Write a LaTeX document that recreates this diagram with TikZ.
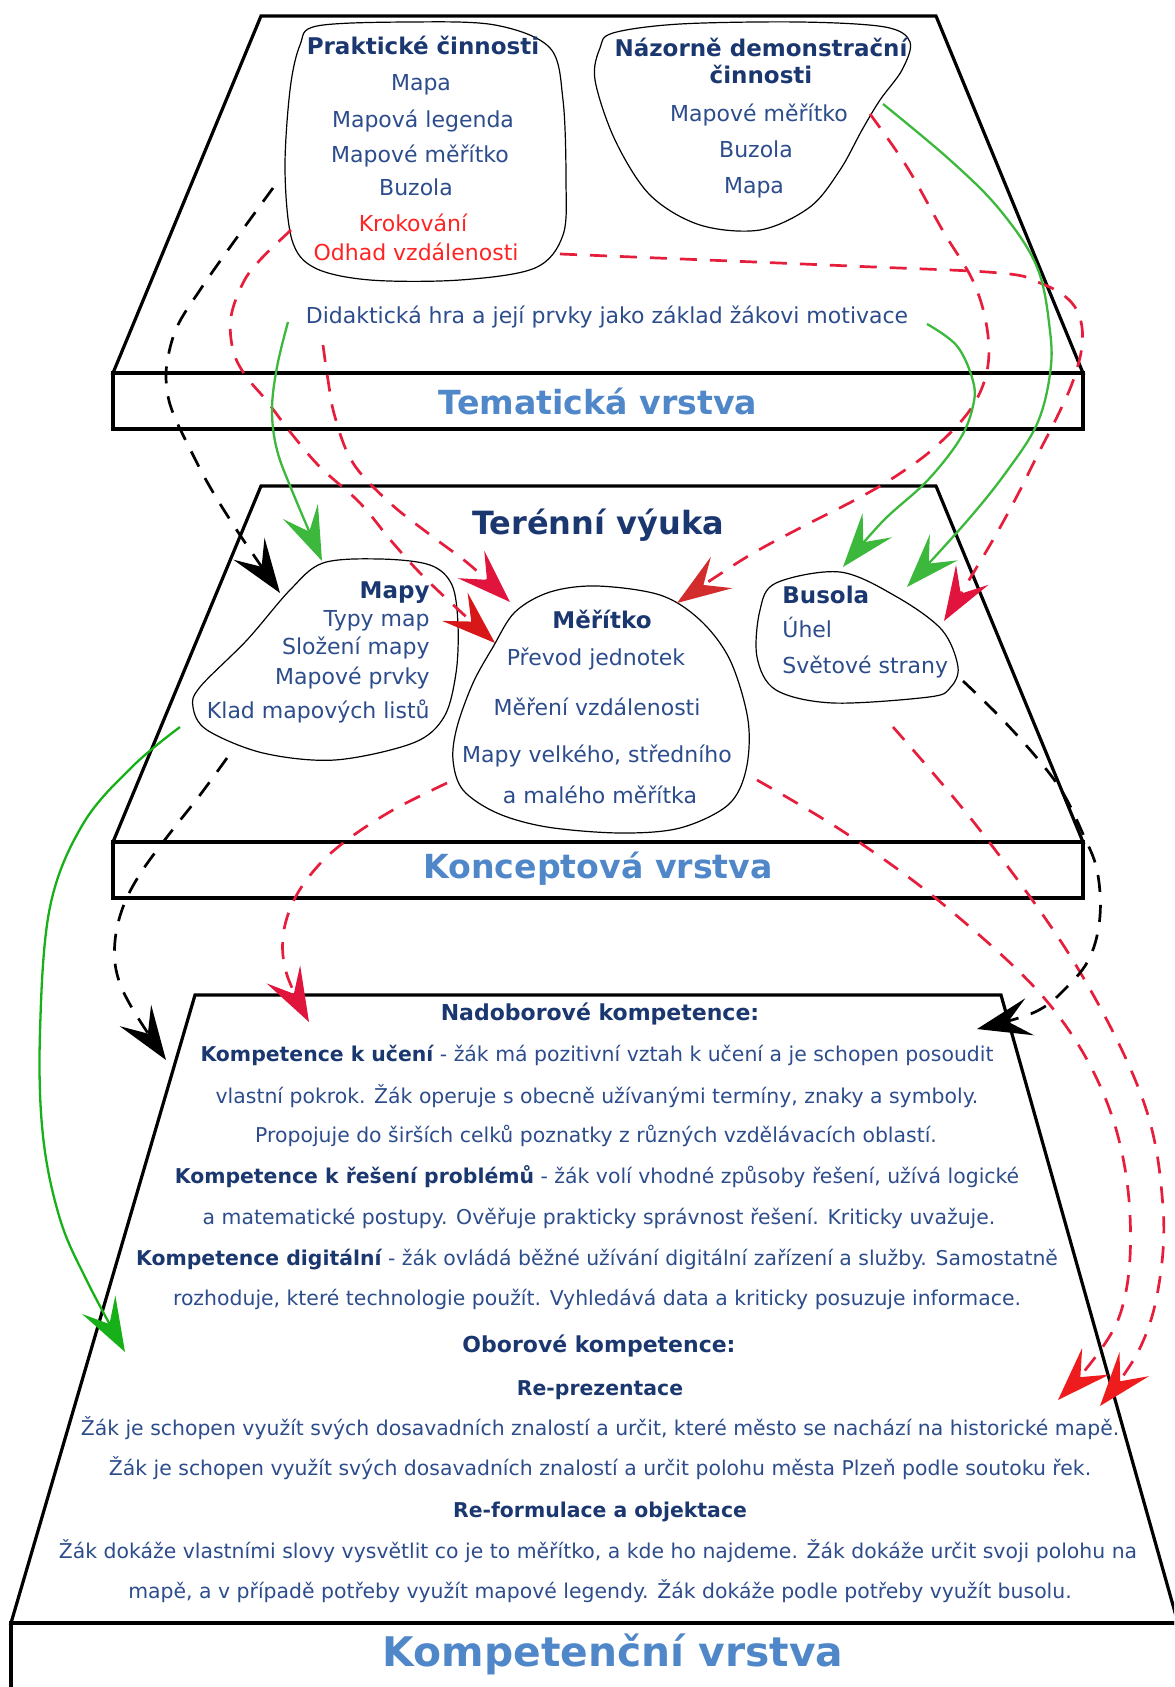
\documentclass[tikz,border=0pt]{standalone}
\usepackage{fontspec}
\setmainfont{DejaVu Sans}
\usetikzlibrary{arrows.meta}
\definecolor{navy}{HTML}{1B3770}
\definecolor{tblue}{HTML}{2C4C8C}
\definecolor{lblue}{HTML}{4F87C9}
\definecolor{txtred}{HTML}{FF2424}
\definecolor{dashred}{HTML}{E61E3C}
\definecolor{tipcrim}{HTML}{E0143C}
\definecolor{tipdark}{HTML}{D81818}
\definecolor{tipbrick}{HTML}{D22C2C}
\definecolor{tipred}{HTML}{EE1C1C}
\definecolor{gline}{HTML}{3CB83C}
\definecolor{gdeep}{HTML}{18B018}
\begin{document}
\begin{tikzpicture}[x=0.5pt,y=-0.5pt,
  layer/.style={line width=1.6pt, line join=miter},
  blob/.style={line width=0.6pt},
  txt/.style={inner sep=0pt, text=tblue, font=\fontsize{11}{13}\selectfont, text height=8pt, text depth=2.5pt},
  hd/.style={inner sep=0pt, text=navy, font=\bfseries\fontsize{11.5}{13}\selectfont, text height=8.5pt, text depth=2.5pt},
  rtxt/.style={txt, text=txtred},
  btxt/.style={inner sep=0pt, text=tblue, font=\fontsize{10.2}{12}\selectfont, text height=7.5pt, text depth=2.2pt},
  bhd/.style={inner sep=0pt, text=navy, font=\bfseries\fontsize{11}{13}\selectfont, text height=8pt, text depth=2.5pt},
  bsub/.style={bhd, font=\bfseries\fontsize{10.2}{12}\selectfont},
  ltitle/.style={inner sep=0pt, text=lblue, font=\bfseries\fontsize{16.6}{18}\selectfont},
  reddash/.style={line width=1.35pt, dashred, dash pattern=on 8.5pt off 6.5pt},
  blackdash/.style={line width=1.35pt, black, dash pattern=on 8.5pt off 6.5pt},
  gcon/.style={line width=1.15pt, gline},
  headin/.style={-{Stealth[length=27pt,width=19pt,inset=11pt,color=#1]}},
]
\useasboundingbox (0,0) rectangle (1174,1687);
\clip (0,0) rectangle (1174,1687);

% ---------- layer 1: thematic ----------
\draw[layer] (261,16) -- (936,16) -- (1083,373) -- (113,373) -- cycle;
\draw[layer] (113,373) rectangle (1083,429);
\node[ltitle] (tema) at (598,401) {Tematická vrstva};

% ---------- layer 2: conceptual ----------
\draw[layer] (261,486) -- (936,486) -- (1083,842) -- (113,842) -- cycle;
\draw[layer] (113,842) rectangle (1083,898);
\node[ltitle] (konc) at (598,869) {Konceptová vrstva};
\node[inner sep=0pt, text=navy, font=\bfseries\fontsize{16}{18}\selectfont] (teren) at (598,525) {Terénní výuka};

% ---------- layer 3: competences ----------
\draw[layer] (195,995) -- (1001,995) -- (1178,1623) -- (11,1623) -- cycle;
\draw[layer] (11,1700) -- (11,1623) -- (1190,1623);
\node[ltitle, font=\bfseries\fontsize{20.4}{22}\selectfont] (komp) at (613,1654) {Kompetenční vrstva};

% ---------- blobs ----------
\draw[blob] plot[smooth cycle, tension=0.55] coordinates {(317,26) (410,22) (495,25) (550,48) (563,100) (566,180) (563,235) (535,268) (460,280) (370,280) (315,268) (292,240) (285,170) (290,90) (300,45)};
\draw[blob] plot[smooth cycle, tension=0.55] coordinates {(613,33) (680,24) (800,22) (885,27) (910,42) (902,70) (880,100) (862,130) (840,170) (810,207) (760,230) (700,225) (650,195) (615,140) (595,80) (600,48)};
\draw[blob] plot[smooth cycle, tension=0.55] coordinates {(323,563) (380,559) (430,565) (452,585) (458,625) (456,673) (444,717) (413,743) (335,760) (263,753) (207,730) (193,707) (200,687) (247,640) (290,590)};
\draw[blob] plot[smooth cycle, tension=0.55] coordinates {(597,586) (660,595) (700,620) (730,660) (748,720) (746,770) (728,805) (680,828) (620,833) (547,827) (497,813) (463,790) (453,760) (457,727) (473,683) (493,647) (515,612) (550,592)};
\draw[blob] plot[smooth cycle, tension=0.55] coordinates {(776,583) (840,572) (897,597) (942,630) (958,667) (950,688) (929,697) (833,703) (776,690) (757,657) (760,610)};

% ---------- blob texts ----------
\node[hd] (pc) at (423,48) {Praktické činnosti};
\node[txt] (pc1) at (421,85) {Mapa};
\node[txt] (pc2) at (423,122) {Mapová legenda};
\node[txt] (pc3) at (420,157) {Mapové měřítko};
\node[txt] (pc4) at (416,190) {Buzola};
\node[rtxt] (pc5) at (413,226) {Krokování};
\node[rtxt] (pc6) at (416,255) {Odhad vzdálenosti};

\node[hd] (nd) at (761,50) {Názorně demonstrační};
\node[hd] (nd0) at (761,77) {činnosti};
\node[txt] (nd1) at (759,116) {Mapové měřítko};
\node[txt] (nd2) at (756,152) {Buzola};
\node[txt] (nd3) at (754,188) {Mapa};

\node[txt] (dh) at (607,318) {Didaktická hra a její prvky jako základ žákovi motivace};

\node[hd, anchor=east] (mp) at (430,592) {Mapy};
\node[txt, anchor=east] (mp1) at (430,621) {Typy map};
\node[txt, anchor=east] (mp2) at (430,649) {Složení mapy};
\node[txt, anchor=east] (mp3) at (430,679) {Mapové prvky};
\node[txt, anchor=east] (mp4) at (430,713) {Klad mapových listů};

\node[hd] (me) at (602,622) {Měřítko};
\node[txt] (me1) at (596,660) {Převod jednotek};
\node[txt] (me2) at (597,710) {Měření vzdálenosti};
\node[txt] (me3) at (597,757) {Mapy velkého, středního};
\node[txt] (me4) at (600,798) {a malého měřítka};

\node[hd, anchor=west] (bu) at (782,597) {Busola};
\node[txt, anchor=west] (bu1) at (782,632) {Úhel};
\node[txt, anchor=west] (bu2) at (782,668) {Světové strany};

% ---------- competence texts ----------
\node[bhd] (nad) at (600,1015) {Nadoborové kompetence:};
\node[btxt] (k1) at (597,1056) {{\bfseries\color{navy}Kompetence k učení} - žák má pozitivní vztah k učení a je schopen posoudit};
\node[btxt] (k2) at (597,1098) {vlastní pokrok. Žák operuje s obecně užívanými termíny, znaky a symboly.};
\node[btxt] (k3) at (596,1137) {Propojuje do širších celků poznatky z různých vzdělávacích oblastí.};
\node[btxt] (k4) at (597,1178) {{\bfseries\color{navy}Kompetence k řešení problémů} - žák volí vhodné způsoby řešení, užívá logické};
\node[btxt] (k5) at (599,1219) {a matematické postupy. Ověřuje prakticky správnost řešení. Kriticky uvažuje.};
\node[btxt] (k6) at (597,1260) {{\bfseries\color{navy}Kompetence digitální} - žák ovládá běžné užívání digitální zařízení a služby. Samostatně};
\node[btxt] (k7) at (597,1300) {rozhoduje, které technologie použít. Vyhledává data a kriticky posuzuje informace.};
\node[bhd] (obo) at (599,1347) {Oborové kompetence:};
\node[bsub] (rep) at (600,1390) {Re-prezentace};
\node[btxt] (r1) at (600,1430) {Žák je schopen využít svých dosavadních znalostí a určit, které město se nachází na historické mapě.};
\node[btxt] (r2) at (600,1470) {Žák je schopen využít svých dosavadních znalostí a určit polohu města Plzeň podle soutoku řek.};
\node[bsub] (ref) at (600,1512) {Re-formulace a objektace};
\node[btxt] (f1) at (598,1553) {Žák dokáže vlastními slovy vysvětlit co je to měřítko, a kde ho najdeme. Žák dokáže určit svoji polohu na};
\node[btxt] (f2) at (600,1593) {mapě, a v případě potřeby využít mapové legendy. Žák dokáže podle potřeby využít busolu.};

% ---------- connector end points ----------
\coordinate (pcL1) at (273,188);
\coordinate (pcL2) at (291,230);
\coordinate (pcR) at (560,254);
\coordinate (ndR1) at (870,114);
\coordinate (ndR2) at (883,104);
\coordinate (dhL) at (288,322);
\coordinate (dhB) at (323,345);
\coordinate (dhR) at (927,324);
\coordinate (mapT) at (322,561);
\coordinate (mapTL) at (280,593);
\coordinate (mapL) at (180,727);
\coordinate (mapB) at (227,758);
\coordinate (merTL1) at (510,602);
\coordinate (merTL2) at (495,643);
\coordinate (merTR) at (677,603);
\coordinate (merBL) at (447,783);
\coordinate (merBR) at (757,780);
\coordinate (busT1) at (843,567);
\coordinate (busT2) at (907,587);
\coordinate (busTR) at (944,621);
\coordinate (busR) at (963,681);
\coordinate (busB) at (893,727);
\coordinate (kompL1) at (166,1060);
\coordinate (kompL2) at (125,1352);
\coordinate (kompT) at (309,1022);
\coordinate (kompTR) at (977,1029);
\coordinate (kompR1) at (1058,1400);
\coordinate (kompR2) at (1100,1406);

% ---------- connectors ----------
% practical activities -> maps
\draw[blackdash, headin=black] plot[smooth, tension=0.6] coordinates {(pcL1) (233,243) (200,290) (177,327) (167,363) (167,390) (173,413) (187,443) (210,487) (240,535) (mapTL)};
% practical activities -> scale
\draw[reddash, headin=tipdark] plot[smooth, tension=0.6] coordinates {(pcL2) (260,260) (243,283) (231,317) (233,350) (245,375) (266,400) (291,433) (320,467) (360,503) (393,543) (430,583) (merTL2)};
% didactic game -> scale
\draw[reddash, headin=tipcrim] plot[smooth, tension=0.6] coordinates {(dhB) (328,380) (335,417) (353,463) (390,503) (433,537) (470,565) (merTL1)};
% practical activities -> compass
\draw[reddash, headin=tipcrim] plot[smooth, tension=0.6] coordinates {(pcR) (850,266) (1000,273) (1040,283) (1067,298) (1080,318) (1082,346) (1073,381) (1057,417) (1037,456) (1017,496) (990,545) (busTR)};
% demonstration activities -> scale
\draw[reddash, headin=tipbrick] plot[smooth, tension=0.6] coordinates {(ndR1) (907,167) (943,231) (973,281) (987,328) (987,371) (970,410) (933,449) (893,478) (855,500) (800,528) (745,558) (merTR)};
% demonstration activities -> compass
\draw[gcon, headin=gline] plot[smooth, tension=0.6] coordinates {(ndR2) (950,160) (1000,210) (1037,267) (1050,331) (1050,374) (1037,424) (1007,471) (967,521) (busT2)};
% didactic game -> compass
\draw[gcon, headin=gline] plot[smooth, tension=0.6] coordinates {(dhR) (957,346) (973,381) (973,406) (960,439) (927,481) (883,521) (busT1)};
% didactic game -> maps
\draw[gcon, headin=gline] plot[smooth, tension=0.6] coordinates {(dhL) (277,367) (272,410) (277,450) (293,493) (mapT)};
% maps -> competences
\draw[gcon, gdeep, headin=gdeep] plot[smooth, tension=0.6] coordinates {(mapL) (133,766) (83,824) (50,907) (40,1032) (43,1136) (60,1219) (87,1281) (kompL2)};
\draw[blackdash, headin=black] plot[smooth, tension=0.6] coordinates {(mapB) (200,795) (167,837) (140,874) (123,907) (115,941) (117,974) (132,1008) (kompL1)};
% scale -> competences
\draw[reddash, headin=tipcrim] plot[smooth, tension=0.6] coordinates {(merBL) (393,810) (347,840) (317,867) (294,900) (283,937) (287,975) (kompT)};
\draw[reddash, headin=tipred] plot[smooth, tension=0.6] coordinates {(merBR) (850,836) (950,910) (1050,1005) (1108,1105) (1130,1215) (1118,1320) (kompR1)};
% compass -> competences
\draw[reddash, headin=tipred] plot[smooth, tension=0.6] coordinates {(busB) (983,834) (1077,967) (1143,1100) (1163,1207) (1158,1290) (1138,1352) (kompR2)};
\draw[blackdash, headin=black] plot[smooth, tension=0.6] coordinates {(busR) (1000,717) (1037,758) (1063,793) (1083,834) (1097,870) (1100,916) (1090,957) (1067,987) (1035,1012) (kompTR)};
\end{tikzpicture}
\end{document}
